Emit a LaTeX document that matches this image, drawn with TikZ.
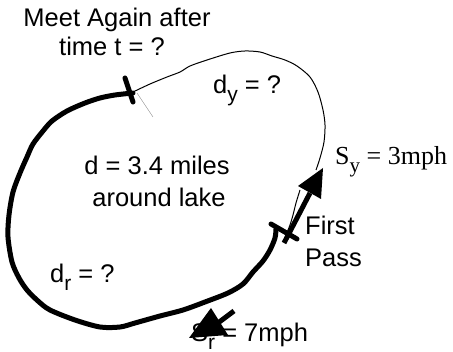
\documentclass[tikz,border=0pt]{standalone}
\usepackage{fontspec}
\setmainfont{Liberation Sans}
\newfontfamily\tms{Liberation Serif}
\newcommand\mysub[1]{\raisebox{-0.28em}{\fontsize{21}{24}\selectfont #1}}
\begin{document}
\begin{tikzpicture}[x=1pt,y=-1pt,
  thickline/.style={line width=5pt, line cap=round, line join=round},
  thinline/.style={line width=1pt, line join=round},
  tickbar/.style={line width=5pt, line cap=round},
  shaft/.style={line width=5pt},
  lbl/.style={font=\fontsize{25.5}{29}\selectfont, inner sep=0pt},
  tlbl/.style={font=\tms\fontsize{26}{29}\selectfont, inner sep=0pt}]
\useasboundingbox (0,0) rectangle (453,352);

% lake outline: thin part (yellow runner)
\draw[thinline] plot[smooth, tension=0.5] coordinates {
  (133,92) (150,84) (167,77) (180,72) (190,66) (207,60) (230,53) (245,51)
  (260,52) (272,56) (285,60) (297,66) (310,77) (318,92) (323,110) (325,125)
  (324,142) (320,158) (316,170)};
\draw[thinline] plot[smooth, tension=0.5] coordinates {
  (300,190) (296,203) (293,215) (290,225) (286,235) (284,241)};

% lake outline: thick part (red runner)
\draw[thickline] plot[smooth, tension=0.5] coordinates {
  (133,93) (115,95) (100,98) (85,103) (67,111) (52,121) (43,131) (33,144)
  (27,157) (20,173) (13,192) (9,215) (8,237) (12,262) (19,278) (27,290)
  (38,301) (50,310) (75,320) (100,327) (120,327) (135,323) (160,316)
  (183,310) (205,302) (228,293) (243,284) (253,272) (263,261) (270,250)
  (275,238) (276,229)};

% meeting tick
\coordinate (mt1) at (125,78);
\coordinate (mt2) at (133,102);
\draw[tickbar] (mt1) -- (mt2);
\coordinate (fl1) at (137,93);
\coordinate (fl2) at (153,117);
\draw[line width=0.4pt, gray] (fl1) -- (fl2);

% first pass tick
\coordinate (ft1) at (271,224);
\coordinate (ft2) at (297,239);
\draw[tickbar] (ft1) -- (ft2);

% S_y arrow
\coordinate (ya) at (284,243);
\coordinate (yb) at (310,193);
\coordinate (ytip) at (323,168);
\coordinate (yl) at (298,186);
\coordinate (yr) at (321,199);
\draw[shaft] (ya) -- (yb);
\fill (ytip) -- (yl) -- (yr) -- cycle;

% labels
\node[lbl, anchor=base] (meet) at (117,27) {Meet Again after};
\node[lbl, anchor=base] (time) at (112,56) {time t = ?};
\node[lbl, anchor=base west] (dy) at (213,94) {d\mysub{y} = ?};
\node[lbl, anchor=base] (d) at (157,175) {d = 3.4 miles};
\node[lbl, anchor=base] (lake) at (159,207) {around lake};
\node[lbl, anchor=base west] (dr) at (50,283) {d\mysub{r} = ?};
\node[lbl, anchor=base west] (first) at (305,235) {First};
\node[lbl, anchor=base west] (pass) at (305,267) {Pass};
\node[tlbl, anchor=base west] (sy) at (335,165) {S\mysub{\tms y} = 3mph};
\node[lbl, anchor=base west] (sr) at (191,342) {S\mysub{r} = 7mph};

% S_r arrow
\coordinate (ra) at (234,311);
\coordinate (rb) at (218,323);
\coordinate (rtip) at (189,338);
\coordinate (rt) at (211,308);
\coordinate (rr) at (228,335);
\draw[shaft] (ra) -- (rb);
\fill (rtip) -- (rt) -- (rr) -- cycle;
\end{tikzpicture}
\end{document}
